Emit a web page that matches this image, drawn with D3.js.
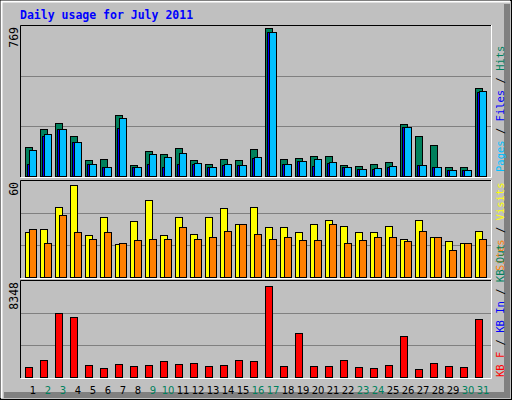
<!DOCTYPE html>
<html>
<head>
<meta charset="utf-8">
<script src="https://cdn.jsdelivr.net/npm/d3@7"></script>
<style>
  body { margin: 0; background: #fff; }
  svg { display: block; }
</style>
</head>
<body>
<svg id="chart"></svg>
<script>
const days = d3.range(1, 32);
const weekend = [2, 3, 9, 10, 16, 17, 23, 24, 30, 31];

const hits = [147, 239, 270, 203, 80, 86, 311, 55, 127, 111, 142, 80, 60, 86, 80, 137,
  757, 86, 91, 101, 101, 55, 50, 60, 70, 265, 203, 157, 45, 45, 450];
const files = [132, 214, 239, 173, 60, 45, 296, 45, 111, 96, 116, 65, 45, 60, 55, 96,
  737, 60, 75, 86, 70, 45, 34, 40, 50, 250, 55, 45, 29, 29, 434];
const pages = [60, 203, 239, 173, 60, 45, 244, 45, 60, 45, 60, 60, 45, 55, 55, 91,
  737, 60, 75, 50, 65, 45, 34, 34, 45, 250, 55, 45, 29, 29, 430];
const visits = [28, 30, 44, 57.5, 26, 37.5, 20.6, 35, 48, 26, 37.5, 27, 37.5, 43, 33, 44,
  31, 31, 28, 33, 35.6, 32, 28, 28, 32, 24, 35.6, 25, 22.5, 21, 29];
const sites = [30, 21, 39, 28, 24, 28, 21, 23, 24, 24, 31, 24, 25, 29, 33, 27,
  24, 25, 23, 23, 33, 21, 23, 25, 25, 22.5, 29, 25, 17, 21, 24];
const kbytes = [900, 1500, 5590, 5250, 1070, 810, 1160, 980, 1070, 1420, 1160, 1240, 980, 1070, 1500, 1420,
  7940, 980, 3850, 980, 980, 1500, 900, 810, 1070, 3590, 720, 1240, 980, 900, 5070];

const maxHits = 769, maxVisits = 60, maxKB = 8348;

const W = 512, H = 400;
const svg = d3.select('#chart').attr('width', W).attr('height', H);

// window background and bevel
svg.append('rect').attr('width', W).attr('height', H).attr('fill', '#c0c0c0');
svg.append('rect').attr('x', 0.5).attr('y', 0.5).attr('width', W - 1).attr('height', H - 1)
  .attr('fill', 'none').attr('stroke', '#000');
svg.append('path').attr('d', `M1.5,${H - 2}V1.5H${W - 2}`).attr('fill', 'none').attr('stroke', '#fff').attr('stroke-width', 2);
svg.append('path').attr('d', `M${W - 5},4V${H - 5}H4`).attr('fill', 'none').attr('stroke', '#808080').attr('stroke-width', 6);

svg.append('text').attr('x', 20).attr('y', 19)
  .attr('font-family', 'DejaVu Sans Mono').attr('font-weight', 'bold').attr('font-size', 11.5)
  .attr('fill', '#0000ff').text('Daily usage for July 2011');

const left = 20, right = 491;
const x = d3.scaleBand().domain(days).range([left, left + 31 * 15]);

function panel(top, bottom, max) {
  const y = d3.scaleLinear().domain([0, max]).range([bottom - 1, top + 1]);
  const g = svg.append('g');
  [1 / 3, 2 / 3].forEach(f => {
    const yy = Math.round(y(max * f)) + 0.5;
    g.append('line').attr('x1', left).attr('x2', right).attr('y1', yy).attr('y2', yy)
      .attr('stroke', '#808080');
  });
  g.append('path').attr('d', `M${left + 0.5},${bottom}V${top + 0.5}H${right}`).attr('fill', 'none').attr('stroke', '#000');
  g.append('path').attr('d', `M${left + 0.5},${bottom + 0.5}H${right + 0.5}V${top}`).attr('fill', 'none').attr('stroke', '#fff');
  svg.append('text')
    .attr('transform', `translate(18,${top + 2}) rotate(-90)`)
    .attr('text-anchor', 'end')
    .attr('font-family', 'DejaVu Sans Mono').attr('font-size', 11.5).attr('fill', '#000')
    .text(max);
  return { g, y };
}

function bars(p, data, dx, w, color) {
  p.g.selectAll(null).data(data).enter().append('rect')
    .attr('x', (d, i) => x(days[i]) + dx + 0.5)
    .attr('y', d => Math.round(p.y(d)) + 0.5)
    .attr('width', w)
    .attr('height', d => Math.round(p.y(0)) - Math.round(p.y(d)))
    .attr('fill', color).attr('stroke', '#000');
}

const p1 = panel(25, 177, maxHits);
bars(p1, hits, 5, 7, '#00805c');
bars(p1, pages, 7, 4, '#0000ff');
bars(p1, files, 9, 7, '#00c0ff');

const p2 = panel(180, 278, maxVisits);
bars(p2, visits, 5, 7, '#ffff00');
bars(p2, sites, 9, 7, '#ff8000');

const p3 = panel(280, 378, maxKB);
bars(p3, kbytes, 5, 7, '#ff0000');

// day labels
svg.selectAll('.day').data(days).enter().append('text')
  .attr('x', d => x(d) + 13).attr('y', 394)
  .attr('text-anchor', 'middle')
  .attr('font-family', 'DejaVu Sans').attr('font-size', 10)
  .attr('fill', d => weekend.includes(d) ? '#00805c' : '#000')
  .text(d => d);

// right-side legends
function legend(yStart, parts) {
  const t = svg.append('text')
    .attr('transform', `translate(504,${yStart}) rotate(-90)`)
    .attr('font-family', 'DejaVu Sans Mono').attr('font-size', 10.5);
  parts.forEach(([s, c]) => t.append('tspan').attr('fill', c).text(s));
}
legend(172, [['Pages', '#00c0ff'], [' / ', '#000'], ['Files', '#0000ff'], [' / ', '#000'], ['Hits', '#00805c']]);
legend(271, [['Sites', '#ff8000'], [' / ', '#000'], ['Visits', '#ffff00']]);
legend(377, [['KB F', '#ff0000'], [' / ', '#000'], ['KB In', '#0000ff'], [' / ', '#000'], ['KB Out', '#00805c']]);
</script>
</body>
</html>
